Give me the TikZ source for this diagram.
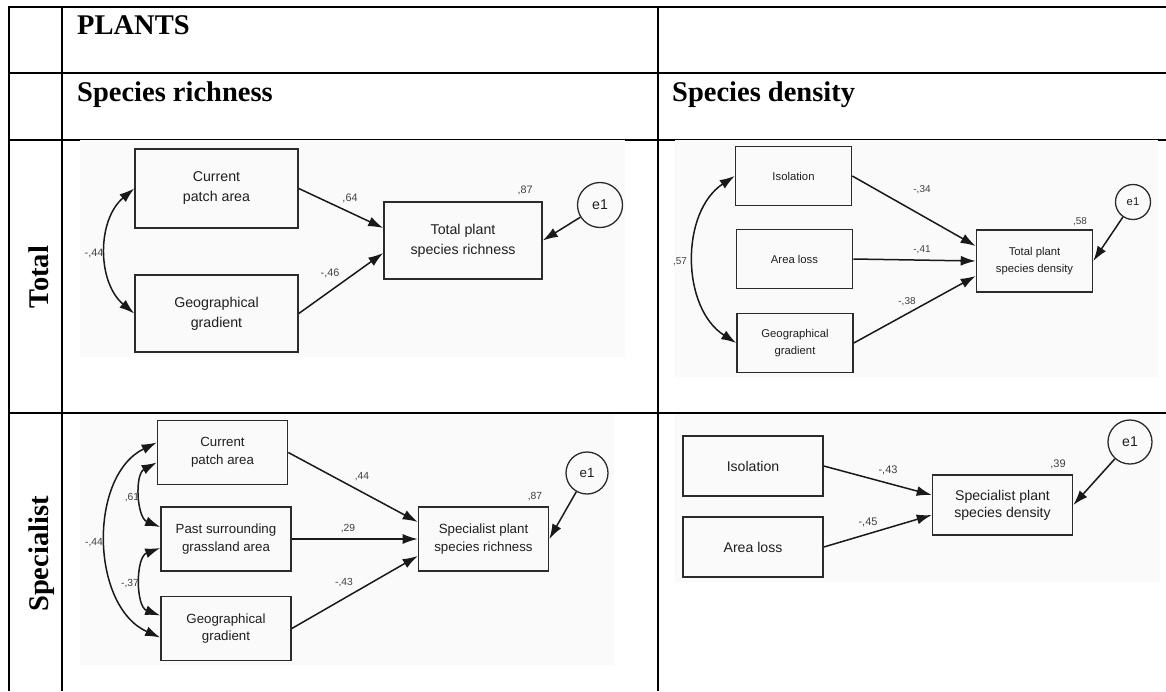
\documentclass[tikz,border=0pt]{standalone}
\usepackage{fontspec}
\setmainfont{Liberation Serif}
\newfontfamily\amosfont{Liberation Sans}
\usepackage{tikz}
\usetikzlibrary{arrows.meta}
\definecolor{boxgray}{HTML}{2B2B2B}
\definecolor{numgray}{HTML}{404040}
\definecolor{panelbg}{HTML}{FAFAFA}
\tikzset{
  vbox/.style={draw=boxgray, line width=1.6pt, align=center, inner sep=0pt, text=black!88},
  err/.style={circle, draw=boxgray, line width=1.3pt, inner sep=0pt, text=black!88},
  coef/.style={text=numgray, inner sep=0pt},
  effect/.style={-{Latex[length=15pt,width=10pt]}, line width=1.5pt, black!90},
  covar/.style={{Latex[length=15pt,width=10pt]}-{Latex[length=15pt,width=10pt]}, line width=1.5pt, black!90},
  hdr/.style={font=\fontsize{28.5}{34}\selectfont\bfseries, inner sep=0pt},
  grid/.style={line width=2pt}
}
\begin{document}
\begin{tikzpicture}[x=1pt,y=-1pt]
    \useasboundingbox (0,0) rectangle (1166,691);
    \draw[grid] (9,7) -- (1166,7);
    \draw[grid] (9,73) -- (1166,73);
    \draw[grid] (9,140) -- (1166,140);
    \draw[grid] (9,413) -- (1166,413);
    \draw[grid] (9,6) -- (9,691);
    \draw[grid] (62,6) -- (62,691);
    \draw[grid] (658,6) -- (658,691);
    \node[hdr, anchor=base west] (plants) at (77,34.5) {PLANTS};
    \node[hdr, anchor=base west] (rich) at (77,101) {Species richness};
    \node[hdr, anchor=base west] (dens) at (672,101) {Species density};
    \node[hdr, rotate=90, anchor=base] (total) at (48,277) {Total};
    \node[hdr, rotate=90, anchor=base] (spec) at (48,554) {Specialist};
    \begin{scope}[shift={(80,140)}, font=\amosfont\fontsize{14.2}{20}\selectfont,
        coef/.append style={font=\amosfont\fontsize{10.8}{12}\selectfont}]
      \fill[panelbg] (0,0) rectangle (545,217);
      \node[vbox, minimum width=163pt, minimum height=79pt] (cur1) at (136.5,48.5) {Current\\patch area};
      \node[vbox, minimum width=163pt, minimum height=77pt] (geo1) at (136.5,173.5) {Geographical\\gradient};
      \node[vbox, minimum width=158pt, minimum height=77pt] (tot1) at (383,100.5) {Total plant\\species richness};
      \node[err, minimum size=45pt] (e1a) at (520,65) {e1};
      \draw[effect] (cur1.east) -- ([yshift=12.5pt]tot1.west);
      \draw[effect] (geo1.east) -- ([yshift=-12.5pt]tot1.west);
      \draw[effect] (e1a) -- (tot1.east);
      \draw[covar] (cur1.west) to[bend right=50] (geo1.west);
      \node[coef] (r87a) at (445,50) {,87};
      \node[coef] (b64) at (270,58) {,64};
      \node[coef] (b46) at (250,133) {-,46};
      \node[coef] (c44a) at (14,113) {-,44};
    \end{scope}
    \begin{scope}[shift={(675,140)}, font=\amosfont\fontsize{11.3}{17.3}\selectfont,
        coef/.append style={font=\amosfont\fontsize{10}{12}\selectfont},
        vbox/.append style={minimum width=116pt, minimum height=59pt}]
      \fill[panelbg] (0,0) rectangle (483,237);
      \node[vbox] (iso2) at (118.5,36) {Isolation};
      \node[vbox] (al2) at (119.5,119) {Area loss};
      \node[vbox] (geo2) at (120,203) {Geographical\\gradient};
      \node[vbox, minimum height=62pt] (tds2) at (359.5,121) {Total plant\\species density};
      \node[err, minimum size=35pt] (e1b) at (458,62) {e1};
      \draw[effect] (iso2.east) -- ([yshift=15pt]tds2.west);
      \draw[effect] (al2.east) -- (tds2.west);
      \draw[effect] (geo2.east) -- ([yshift=-15pt]tds2.west);
      \draw[effect] (e1b) -- (tds2.east);
      \draw[covar] (iso2.west) to[bend right=57] (geo2.west);
      \node[coef] (r58) at (405,82) {,58};
      \node[coef] (b34) at (247,50) {-,34};
      \node[coef] (b41) at (247,110) {-,41};
      \node[coef] (b38) at (232,162) {-,38};
      \node[coef] (c57) at (5,122) {,57};
    \end{scope}
    \begin{scope}[shift={(80,413)}, font=\amosfont\fontsize{13.3}{17.7}\selectfont,
        coef/.append style={font=\amosfont\fontsize{10.3}{12}\selectfont},
        vbox/.append style={minimum width=130pt, minimum height=64pt}]
      \fill[panelbg] (0,1) rectangle (534,252);
      \node[vbox] (cur3) at (142.5,39.5) {Current\\patch area};
      \node[vbox] (past3) at (146,126) {Past surrounding\\grassland area};
      \node[vbox] (geo3) at (146,215.5) {Geographical\\gradient};
      \node[vbox] (sr3) at (403.5,126) {Specialist plant\\species richness};
      \node[err, minimum size=42pt] (e1c) at (507,60) {e1};
      \draw[effect] (cur3.east) -- ([yshift=17pt]sr3.west);
      \draw[effect] (past3.east) -- (sr3.west);
      \draw[effect] (geo3.east) -- ([yshift=-17pt]sr3.west);
      \draw[effect] (e1c) -- (sr3.east);
      \draw[covar] ([yshift=10pt]cur3.west) to[bend right=65] ([yshift=-9pt]geo3.west);
      \draw[covar] ([yshift=-10pt]cur3.west) to[bend right=65] ([yshift=12pt]past3.west);
      \draw[covar] ([yshift=-9pt]past3.west) to[bend right=70] ([yshift=13pt]geo3.west);
      \node[coef] (r87b) at (455,84) {,87};
      \node[coef] (b44) at (282,64) {,44};
      \node[coef] (b29) at (268,116) {,29};
      \node[coef] (b43a) at (264,170) {-,43};
      \node[coef] (c61) at (52,85) {,61};
      \node[coef] (c37) at (50,171) {-,37};
      \node[coef] (c44b) at (14,130) {-,44};
    \end{scope}
    \begin{scope}[shift={(675,413)}, font=\amosfont\fontsize{14.1}{17.3}\selectfont,
        coef/.append style={font=\amosfont\fontsize{11}{12}\selectfont},
        vbox/.append style={minimum width=140pt, minimum height=60pt}]
      \fill[panelbg] (0,1) rectangle (485,169);
      \node[vbox] (iso4) at (78,53) {Isolation};
      \node[vbox] (al4) at (78,134) {Area loss};
      \node[vbox] (sd4) at (327.5,92) {Specialist plant\\species density};
      \node[err, minimum size=44pt] (e1d) at (455,29) {e1};
      \draw[effect] (iso4.east) -- ([yshift=10pt]sd4.west);
      \draw[effect] (al4.east) -- ([yshift=-10pt]sd4.west);
      \draw[effect] (e1d) -- (sd4.east);
      \node[coef] (r39) at (383,51) {,39};
      \node[coef] (b43b) at (213,57) {-,43};
      \node[coef] (b45) at (193,109) {-,45};
    \end{scope}
\end{tikzpicture}
\end{document}
